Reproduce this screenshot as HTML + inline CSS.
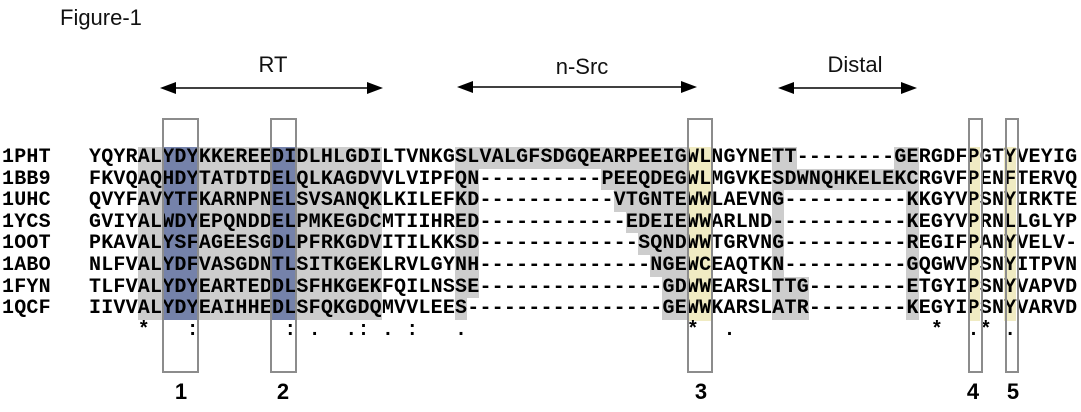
<!DOCTYPE html>
<html><head><meta charset="utf-8">
<style>
html,body{margin:0;padding:0;background:#fff;}
body{width:1081px;height:412px;position:relative;overflow:hidden;}
.a{position:absolute;}
.g{position:absolute;background:#cdcdcd;}
.b{position:absolute;background:#7582aa;}
.y{position:absolute;background:#f0ebc3;}
.box{position:absolute;border:2px solid #8c8c8c;box-sizing:border-box;top:118px;height:255px;}
.seq{position:absolute;left:89px;top:147px;margin:0;font:bold 20px/21.6px "Liberation Mono",monospace;letter-spacing:0.2px;color:#000;white-space:pre;}
.nm{position:absolute;left:2px;top:147px;margin:0;font:bold 20px/21.6px "Liberation Mono",monospace;letter-spacing:0.2px;white-space:pre;}
.num{position:absolute;top:378px;width:40px;text-align:center;font:bold 22px/28px "Liberation Sans",sans-serif;}
.lbl{position:absolute;font:22px/26px "Liberation Sans",sans-serif;color:#111;}
</style></head><body>
<div class="lbl" style="left:60px;top:5px;">Figure-1</div>
<div class="lbl" style="left:233px;top:52px;width:80px;text-align:center;">RT</div>
<div class="lbl" style="left:532px;top:54px;width:100px;text-align:center;">n-Src</div>
<div class="lbl" style="left:805px;top:52px;width:100px;text-align:center;">Distal</div>
<svg class="a" style="left:0;top:0" width="1081" height="120">
<g fill="#000" stroke="#000">
<line x1="172" y1="88" x2="372" y2="88" stroke-width="1.6"/>
<polygon points="160,88 176,82 176,94" stroke="none"/>
<polygon points="383,88 367,82 367,94" stroke="none"/>
<line x1="469" y1="87" x2="686" y2="87" stroke-width="1.6"/>
<polygon points="457,87 473,81 473,93" stroke="none"/>
<polygon points="697,87 681,81 681,93" stroke="none"/>
<line x1="790" y1="88" x2="906" y2="88" stroke-width="1.6"/>
<polygon points="778,88 794,82 794,94" stroke="none"/>
<polygon points="917,88 901,82 901,94" stroke="none"/>
</g></svg>

<!-- gray -->
<div class="g" style="left:137.8px;top:147px;width:244px;height:172.8px"></div>
<div class="g" style="left:455px;top:147px;width:231.8px;height:21.6px"></div>
<div class="g" style="left:455px;top:168.6px;width:24.4px;height:129.6px"></div>
<div class="g" style="left:455px;top:298.2px;width:12.2px;height:21.6px"></div>
<div class="g" style="left:601.4px;top:168.6px;width:85.4px;height:21.6px"></div>
<div class="g" style="left:613.6px;top:190.2px;width:73.2px;height:21.6px"></div>
<div class="g" style="left:625.8px;top:211.8px;width:61px;height:21.6px"></div>
<div class="g" style="left:638px;top:233.4px;width:48.8px;height:21.6px"></div>
<div class="g" style="left:650.2px;top:255px;width:36.6px;height:21.6px"></div>
<div class="g" style="left:662.4px;top:276.6px;width:24.4px;height:43.2px"></div>
<div class="g" style="left:772.2px;top:147px;width:12.2px;height:172.8px"></div>
<div class="g" style="left:772.2px;top:147px;width:24.4px;height:21.6px"></div>
<div class="g" style="left:772.2px;top:168.6px;width:146.4px;height:21.6px"></div>
<div class="g" style="left:772.2px;top:276.6px;width:36.6px;height:43.2px"></div>
<div class="g" style="left:906.4px;top:147px;width:12.2px;height:172.8px"></div>
<div class="g" style="left:894.2px;top:147px;width:24.4px;height:21.6px"></div>
<!-- blue -->
<div class="b" style="left:162.2px;top:147px;width:36.6px;height:172.8px"></div>
<div class="b" style="left:272px;top:147px;width:24.4px;height:172.8px"></div>
<!-- yellow -->
<div class="y" style="left:686.8px;top:147px;width:24.4px;height:174px"></div>
<div class="y" style="left:967.6px;top:147px;width:12.2px;height:174px"></div>
<div class="y" style="left:1004.2px;top:147px;width:12.2px;height:174px"></div>

<pre class="nm">1PHT
1BB9
1UHC
1YCS
1OOT
1ABO
1FYN
1QCF</pre>
<pre class="seq">YQYRALYDYKKEREEDIDLHLGDILTVNKGSLVALGFSDGQEARPEEIGWLNGYNETT--------GERGDFPGTYVEYIG
FKVQAQHDYTATDTDELQLKAGDVVLVIPFQN----------PEEQDEGWLMGVKESDWNQHKELEKCRGVFPENFTERVQ
QVYFAVYTFKARNPNELSVSANQKLKILEFKD-----------VTGNTEWWLAEVNG----------KKGYVPSNYIRKTE
GVIYALWDYEPQNDDELPMKEGDCMTIIHRED------------EDEIEWWARLND-----------KEGYVPRNLLGLYP
PKAVALYSFAGEESGDLPFRKGDVITILKKSD-------------SQNDWWTGRVNG----------REGIFPANYVELV-
NLFVALYDFVASGDNTLSITKGEKLRVLGYNH--------------NGEWCEAQTKN----------GQGWVPSNYITPVN
TLFVALYDYEARTEDDLSFHKGEKFQILNSSE---------------GDWWEARSLTTG--------ETGYIPSNYVAPVD
IIVVALYDYEAIHHEDLSFQKGDQMVVLEES----------------GEWWKARSLATR--------KEGYIPSNYVARVD
    *   :       : .  .: . :   .                  *  .                *  .* .</pre>

<div class="box" style="left:162px;width:37px"></div>
<div class="box" style="left:270px;width:27px"></div>
<div class="box" style="left:687px;width:26px"></div>
<div class="box" style="left:968px;width:15px"></div>
<div class="box" style="left:1005px;width:14px"></div>

<div class="num" style="left:161px">1</div>
<div class="num" style="left:263px">2</div>
<div class="num" style="left:681px">3</div>
<div class="num" style="left:953px">4</div>
<div class="num" style="left:993px">5</div>
</body></html>
